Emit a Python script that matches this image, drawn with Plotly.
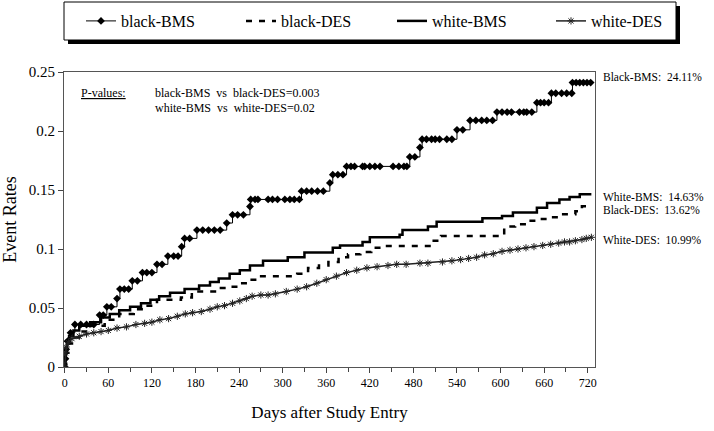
import plotly.graph_objects as go

# ---------------- data ----------------
bbms_days = [0, 1, 2, 4, 8, 14, 22, 30, 40, 48, 53, 58, 64, 72, 76, 82, 88, 93, 100, 107, 113, 120,
             127, 134, 142, 150, 156, 161, 165, 172, 182, 190, 198, 206, 214, 223, 231, 238, 246,
             255, 256, 262, 266, 280, 286, 293, 303, 310, 316, 323, 326, 333, 340, 348, 356, 365,
             369, 376, 383, 388, 394, 399, 410, 413, 420, 427, 434, 452, 460, 467, 471, 475, 482,
             489, 492, 498, 505, 510, 516, 526, 533, 540, 548, 558, 566, 574, 581, 589, 595, 602,
             609, 615, 626, 632, 636, 643, 650, 655, 660, 666, 670, 676, 684, 691, 698, 699, 704,
             709, 714, 719, 724]
bbms_rates = [0.000, 0.007, 0.015, 0.022, 0.029, 0.036, 0.036, 0.036, 0.036, 0.044, 0.044, 0.051, 0.051,
              0.058, 0.066, 0.066, 0.066, 0.073, 0.073, 0.080, 0.080, 0.080,
              0.087, 0.087, 0.094, 0.094, 0.094, 0.102, 0.109, 0.109, 0.116, 0.116, 0.116, 0.116, 0.116,
              0.122, 0.129, 0.129, 0.129,
              0.136, 0.142, 0.142, 0.142, 0.142, 0.142, 0.142, 0.142, 0.142, 0.142, 0.142, 0.149, 0.149,
              0.149, 0.149, 0.149, 0.156,
              0.163, 0.163, 0.163, 0.170, 0.170, 0.170, 0.170, 0.170, 0.170, 0.170, 0.170, 0.170, 0.170,
              0.170, 0.170, 0.178, 0.178,
              0.186, 0.193, 0.193, 0.193, 0.193, 0.193, 0.193, 0.193, 0.201, 0.201, 0.209, 0.209, 0.209,
              0.209, 0.209, 0.216, 0.216,
              0.216, 0.216, 0.216, 0.216, 0.216, 0.216, 0.224, 0.224, 0.224, 0.224, 0.232, 0.232, 0.232,
              0.232, 0.232, 0.241, 0.241,
              0.241, 0.241, 0.241, 0.241]

bdes_days = [0, 2, 5, 10, 20, 35, 55, 75, 95, 112, 127, 160, 175, 210, 227, 238, 252, 265, 320, 335,
             350, 363, 377, 390, 407, 422, 436, 505, 518, 605, 620, 636, 652, 668, 684, 703, 712, 725]
bdes_rates = [0.000, 0.012, 0.020, 0.025, 0.030, 0.035, 0.040, 0.045, 0.049, 0.052, 0.057, 0.059, 0.064,
              0.067, 0.068, 0.071, 0.074, 0.077, 0.079, 0.084, 0.086, 0.089, 0.093, 0.0955, 0.0975,
              0.101, 0.1025, 0.107, 0.111, 0.119, 0.121, 0.124, 0.1255, 0.127, 0.1295, 0.132, 0.1362,
              0.1362]

wbms_days = [0, 1, 3, 6, 12, 20, 35, 50, 62, 75, 90, 105, 118, 130, 145, 165, 185, 200, 212, 227, 241,
             255, 273, 307, 330, 369, 379, 410, 420, 461, 465, 500, 512, 575, 602, 617, 650, 664, 681,
             695, 709, 725]
wbms_rates = [0.000, 0.012, 0.020, 0.026, 0.031, 0.035, 0.038, 0.042, 0.045, 0.048, 0.051, 0.054, 0.057,
              0.060, 0.063, 0.066, 0.069, 0.072, 0.075, 0.079, 0.082, 0.086, 0.090, 0.093, 0.097, 0.101,
              0.103, 0.106, 0.110, 0.112, 0.116, 0.119, 0.123, 0.126, 0.128, 0.131, 0.135, 0.139, 0.142,
              0.144, 0.1463, 0.1463]

wdes_days = [0, 1, 2, 5, 10, 20, 30, 40, 50, 60, 72, 85, 98, 110, 120, 131, 143, 155, 166, 176, 188,
             200, 210, 220, 231, 241, 250, 258, 270, 280, 290, 305, 320, 333, 347, 360, 374, 388, 402,
             416, 430, 445, 457, 470, 489, 500, 520, 533, 545, 556, 567, 578, 590, 602, 613, 624, 635,
             646, 658, 669, 680, 688, 695, 703, 712, 718, 725]
wdes_rates = [0.000, 0.012, 0.017, 0.021, 0.024, 0.026, 0.028, 0.029, 0.030, 0.031, 0.033, 0.034, 0.036,
              0.037, 0.038, 0.040, 0.041, 0.043, 0.045, 0.046, 0.047, 0.049, 0.051, 0.052, 0.054, 0.056,
              0.058, 0.060, 0.061, 0.061, 0.062, 0.064, 0.066, 0.068, 0.071, 0.074, 0.077, 0.080, 0.082,
              0.084, 0.085, 0.086, 0.087, 0.087, 0.088, 0.088, 0.089, 0.090, 0.091, 0.092, 0.093, 0.095,
              0.096, 0.098, 0.099, 0.100, 0.101, 0.102, 0.103, 0.104, 0.105, 0.106, 0.106, 0.107, 0.108,
              0.109, 0.1099]

series_names = ["black-BMS", "black-DES", "white-BMS", "white-DES"]
final_labels = ["Black-BMS:  24.11%", "White-BMS:  14.63%", "Black-DES:  13.62%", "White-DES:  10.99%"]
pvalue_lines = ["black-BMS  vs  black-DES=0.003", "white-BMS  vs  white-DES=0.02"]

# ---------------- layout helpers (pixel -> paper) ----------------
FONT = "Liberation Serif, Times New Roman, serif"
L, R, T, B = 64, 595, 72, 367


def fx(px):
    return (px - L) / (R - L)


def fy(py):
    return (B - py) / (B - T)


fig = go.Figure()
fig.add_trace(go.Scatter(
    x=bbms_days, y=bbms_rates, name=series_names[0], mode="lines+markers",
    line=dict(color="black", width=1, shape="hv"),
    marker=dict(symbol="diamond", size=6, color="black"), legendwidth=115))
fig.add_trace(go.Scatter(
    x=bdes_days, y=bdes_rates, name=series_names[1], mode="lines",
    line=dict(color="black", width=2.5, dash="6px,7px", shape="hv"), legendwidth=106))
fig.add_trace(go.Scatter(
    x=wbms_days, y=wbms_rates, name=series_names[2], mode="lines",
    line=dict(color="black", width=2.5, shape="hv"), legendwidth=114))
fig.add_trace(go.Scatter(
    x=wdes_days, y=wdes_rates, name=series_names[3], mode="lines+markers",
    line=dict(color="#222222", width=1.5),
    marker=dict(symbol="asterisk-open", size=6, line=dict(width=1, color="black")),
    legendwidth=80))

annotations = [
    dict(text="<u>P-values:</u>", x=fx(79), y=fy(93), xref="paper", yref="paper",
         xanchor="left", yanchor="middle", showarrow=False, font=dict(size=12)),
    dict(text=pvalue_lines[0], x=fx(153), y=fy(93), xref="paper", yref="paper",
         xanchor="left", yanchor="middle", showarrow=False, font=dict(size=12)),
    dict(text=pvalue_lines[1], x=fx(153), y=fy(108), xref="paper", yref="paper",
         xanchor="left", yanchor="middle", showarrow=False, font=dict(size=12)),
]
for txt, py in zip(final_labels, [77, 197, 210, 240]):
    annotations.append(dict(text=txt, x=fx(601), y=fy(py), xref="paper", yref="paper",
                            xanchor="left", yanchor="middle", showarrow=False,
                            font=dict(size=11.5)))

# legend frame (box + drop shadow) drawn as shapes behind the legend entries
legend_frame = [
    dict(type="rect", xref="paper", yref="paper",
         x0=fx(68), x1=fx(680), y0=fy(44), y1=fy(6),
         fillcolor="black", line=dict(width=0), layer="below"),
    dict(type="rect", xref="paper", yref="paper",
         x0=fx(64), x1=fx(676), y0=fy(40), y1=fy(2),
         fillcolor="white", line=dict(width=1, color="black"), layer="below"),
]

fig.update_layout(
    width=714, height=431, template="none",
    paper_bgcolor="white", plot_bgcolor="white",
    margin=dict(l=L, r=714 - R, t=T, b=431 - B, pad=0, autoexpand=False),
    font=dict(family=FONT, color="black"),
    showlegend=True,
    legend=dict(orientation="h", x=fx(676), y=fy(4), xanchor="right", yanchor="top",
                bgcolor="rgba(0,0,0,0)", bordercolor="rgba(0,0,0,0)", borderwidth=0,
                font=dict(size=16, family=FONT), itemwidth=30),
    xaxis=dict(range=[-1, 730], tick0=0, dtick=60, ticks="outside", ticklen=5,
               tickcolor="#444", showline=True, linecolor="#555", mirror=True,
               showgrid=False, zeroline=False, automargin=False,
               tickfont=dict(size=12),
               minor=dict(dtick=30, tick0=0, ticks="outside", ticklen=4, tickcolor="#444",
                          showgrid=False),
               title=dict(text="Days after Study Entry", font=dict(size=17), standoff=16)),
    yaxis=dict(range=[0, 0.25], tick0=0, dtick=0.05, ticks="outside", ticklen=5,
               tickcolor="#444", showline=True, linecolor="#555", mirror=True,
               showgrid=False, zeroline=False, automargin=False,
               tickfont=dict(size=15),
               title=dict(text="Event Rates", font=dict(size=18), standoff=13)),
    annotations=annotations,
    shapes=legend_frame,
)

fig.write_html("out.html", config={"displayModeBar": False},
               post_script="document.body.style.margin='0px';document.body.style.padding='0px';")
